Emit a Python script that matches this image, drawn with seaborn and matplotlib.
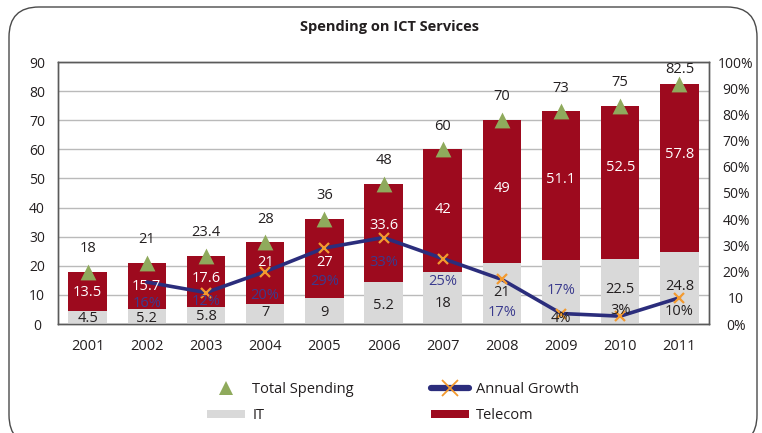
import numpy as np
import matplotlib
matplotlib.use("Agg")
import matplotlib.pyplot as plt
import seaborn as sns
from matplotlib.patches import FancyBboxPatch, Patch
from matplotlib.lines import Line2D
from matplotlib.transforms import IdentityTransform

# ---------------- data ----------------
years = ["2001", "2002", "2003", "2004", "2005", "2006", "2007", "2008", "2009", "2010", "2011"]
total = [18, 21, 23.4, 28, 36, 48, 60, 70, 73, 75, 82.5]
telecom = [13.5, 15.7, 17.6, 21, 27, 33.6, 42, 49, 51.1, 52.5, 57.8]
it_values = [4.5, 5.3, 5.8, 7, 9, 14.4, 18, 21, 21.9, 22.5, 24.7]
it_labels = ["4.5", "5.2", "5.8", "7", "9", "5.2", "18", "21", "", "22.5", "24.8"]
total_labels = ["18", "21", "23.4", "28", "36", "48", "60", "70", "73", "75", "82.5"]
telecom_labels = ["13.5", "15.7", "17.6", "21", "27", "33.6", "42", "49", "51.1", "52.5", "57.8"]
growth_years = years[1:]
growth = [16, 12, 20, 29, 33, 25, 17, 4, 3, 10]
growth_label_years = ["2002", "2003", "2004", "2005", "2006", "2007", "2008", "2009", "2009", "2010", "2011"]
growth_label_text = ["16%", "12%", "20%", "29%", "33%", "25%", "17%", "17%", "4%", "3%", "10%"]
left_ticks = [0, 10, 20, 30, 40, 50, 60, 70, 80, 90]
right_ticks = [0, 10, 20, 30, 40, 50, 60, 70, 80, 90, 100]
right_tick_labels = ["0%", "10", "20%", "30%", "40%", "50%", "60%", "70%", "80%", "90%", "100%"]

# ---------------- layout (label placement) ----------------
telecom_label_y = [10.7, 12.9, 15.8, 21, 21, 34, 39.3, 46.5, 49.7, 53.9, 58.3]
it_label_y = [2, 2, 2.5, 3.8, 3.8, 6.5, 7.2, 10.7, 0, 11.7, 12.9]
growth_label_y = [8, 8.5, 10.9, 16.2, 23.4, 16.2, 4.3, 12.8, 2, 5.1, 4.6]
growth_label_navy = [True] * 8 + [False] * 3

RED = "#9d0a1e"
GRAY = "#d9d9d9"
NAVY = "#2b2d7c"
NAVY_T = "#3b3b8e"
ORANGE = "#f39a2f"
GREEN = "#8faa5c"
TXT = "#231f20"

sns.set_theme(style="white")
plt.rcParams["font.family"] = ["Open Sans", "DejaVu Sans"]

W, H = 762, 433
fig = plt.figure(figsize=(W / 100, H / 100), dpi=100)
ax = fig.add_axes([58 / W, 1 - 324 / H, (709 - 58) / W, (324 - 62) / H])

pos = list(range(len(years)))
sns.barplot(x=years, y=total, color=RED, width=0.65, saturation=1, ax=ax, zorder=2, linewidth=0)
sns.barplot(x=years, y=it_values, color=GRAY, width=0.65, saturation=1, ax=ax, zorder=3, linewidth=0)
sns.scatterplot(x=pos, y=total, marker="^", color=GREEN, s=130, linewidth=0, ax=ax, zorder=5, legend=False)

ax.set_xlim(-0.5, len(years) - 0.5)
ax.set_ylim(0, 90)
ax.set_yticks(left_ticks)
ax.set_yticklabels([str(t) for t in left_ticks])
ax.yaxis.grid(True, color="#bababa", linewidth=1.0, zorder=0)
ax.set_axisbelow(True)
ax.set_xlabel("")
ax.set_ylabel("")
ax.tick_params(axis="x", length=0, pad=11, labelsize=10.5, labelcolor=TXT)
ax.tick_params(axis="y", length=0, pad=15, labelsize=10, labelcolor=TXT)
for lbl in ax.get_yticklabels():
    lbl.set_ha("center")
for sp in ax.spines.values():
    sp.set_color("#5a5a5a")
    sp.set_linewidth(1.0)

ax2 = ax.twinx()
ax2.set_ylim(0, 100)
sns.lineplot(x=pos[1:], y=growth, color=NAVY, linewidth=2.6, ax=ax2, zorder=4,
             marker="x", markersize=7, markeredgecolor=ORANGE, markeredgewidth=1.6,
             markevery=list(range(1, len(growth))))
ax2.set_yticks(right_ticks)
ax2.set_yticklabels(right_tick_labels)
ax2.tick_params(axis="y", length=0, pad=19.5, labelsize=10, labelcolor=TXT)
for lbl in ax2.get_yticklabels():
    lbl.set_ha("center")
ax2.set_ylabel("")
ax2.grid(False)
for sp in ax2.spines.values():
    sp.set_color("#5a5a5a")
    sp.set_linewidth(1.0)

# value labels (drawn on ax2 so they sit above the growth line)
for i in pos:
    ax2.text(i, min(total[i] + 8, 87.4), total_labels[i], transform=ax.transData,
             ha="center", va="center", fontsize=10.5, color=TXT, zorder=6)
    ax2.text(i, telecom_label_y[i], telecom_labels[i], transform=ax.transData,
             ha="center", va="center", fontsize=10.5, color="white", zorder=6)
    if it_labels[i]:
        ax2.text(i, it_label_y[i], it_labels[i], transform=ax.transData,
                 ha="center", va="center", fontsize=10.5, color=TXT, zorder=6)
for yr, t, gy, nv in zip(growth_label_years, growth_label_text, growth_label_y, growth_label_navy):
    ax2.text(years.index(yr), gy, t, ha="center", va="center", fontsize=10.5,
             color=NAVY_T if nv else TXT, zorder=6)

# title
fig.text(390 / W, 1 - 27 / H, "Spending on ICT Services", ha="center", va="center",
         fontsize=10.5, fontweight="bold", color=TXT)

# legend
handles = [
    Line2D([], [], linestyle="none", marker="^", markersize=10, color=GREEN, markeredgewidth=0),
    Patch(facecolor=GRAY, edgecolor="none"),
    Line2D([], [], color=NAVY, linewidth=4.5, marker="x", markersize=11, markeredgecolor=ORANGE,
           markeredgewidth=1.3),
    Patch(facecolor=RED, edgecolor="none"),
]
labels = ["Total Spending", "IT", "Annual Growth", "Telecom"]
fig.legend(handles, labels, ncol=2, loc="upper left", bbox_to_anchor=(207 / W, 1 - 382 / H),
           frameon=False, fontsize=10.5, handlelength=2.6, handleheight=0.45, handletextpad=0.5,
           columnspacing=5.3, labelspacing=0.75, borderpad=0, borderaxespad=0, labelcolor=TXT)

# rounded border
frame = FancyBboxPatch((9, -12), 748, H - 7 + 12, boxstyle="round,pad=0,rounding_size=30",
                       transform=IdentityTransform(), facecolor="none", edgecolor="#4a4a4a",
                       linewidth=1.0, figure=fig)
fig.patches.append(frame)

fig.savefig("out.png", dpi=100)
